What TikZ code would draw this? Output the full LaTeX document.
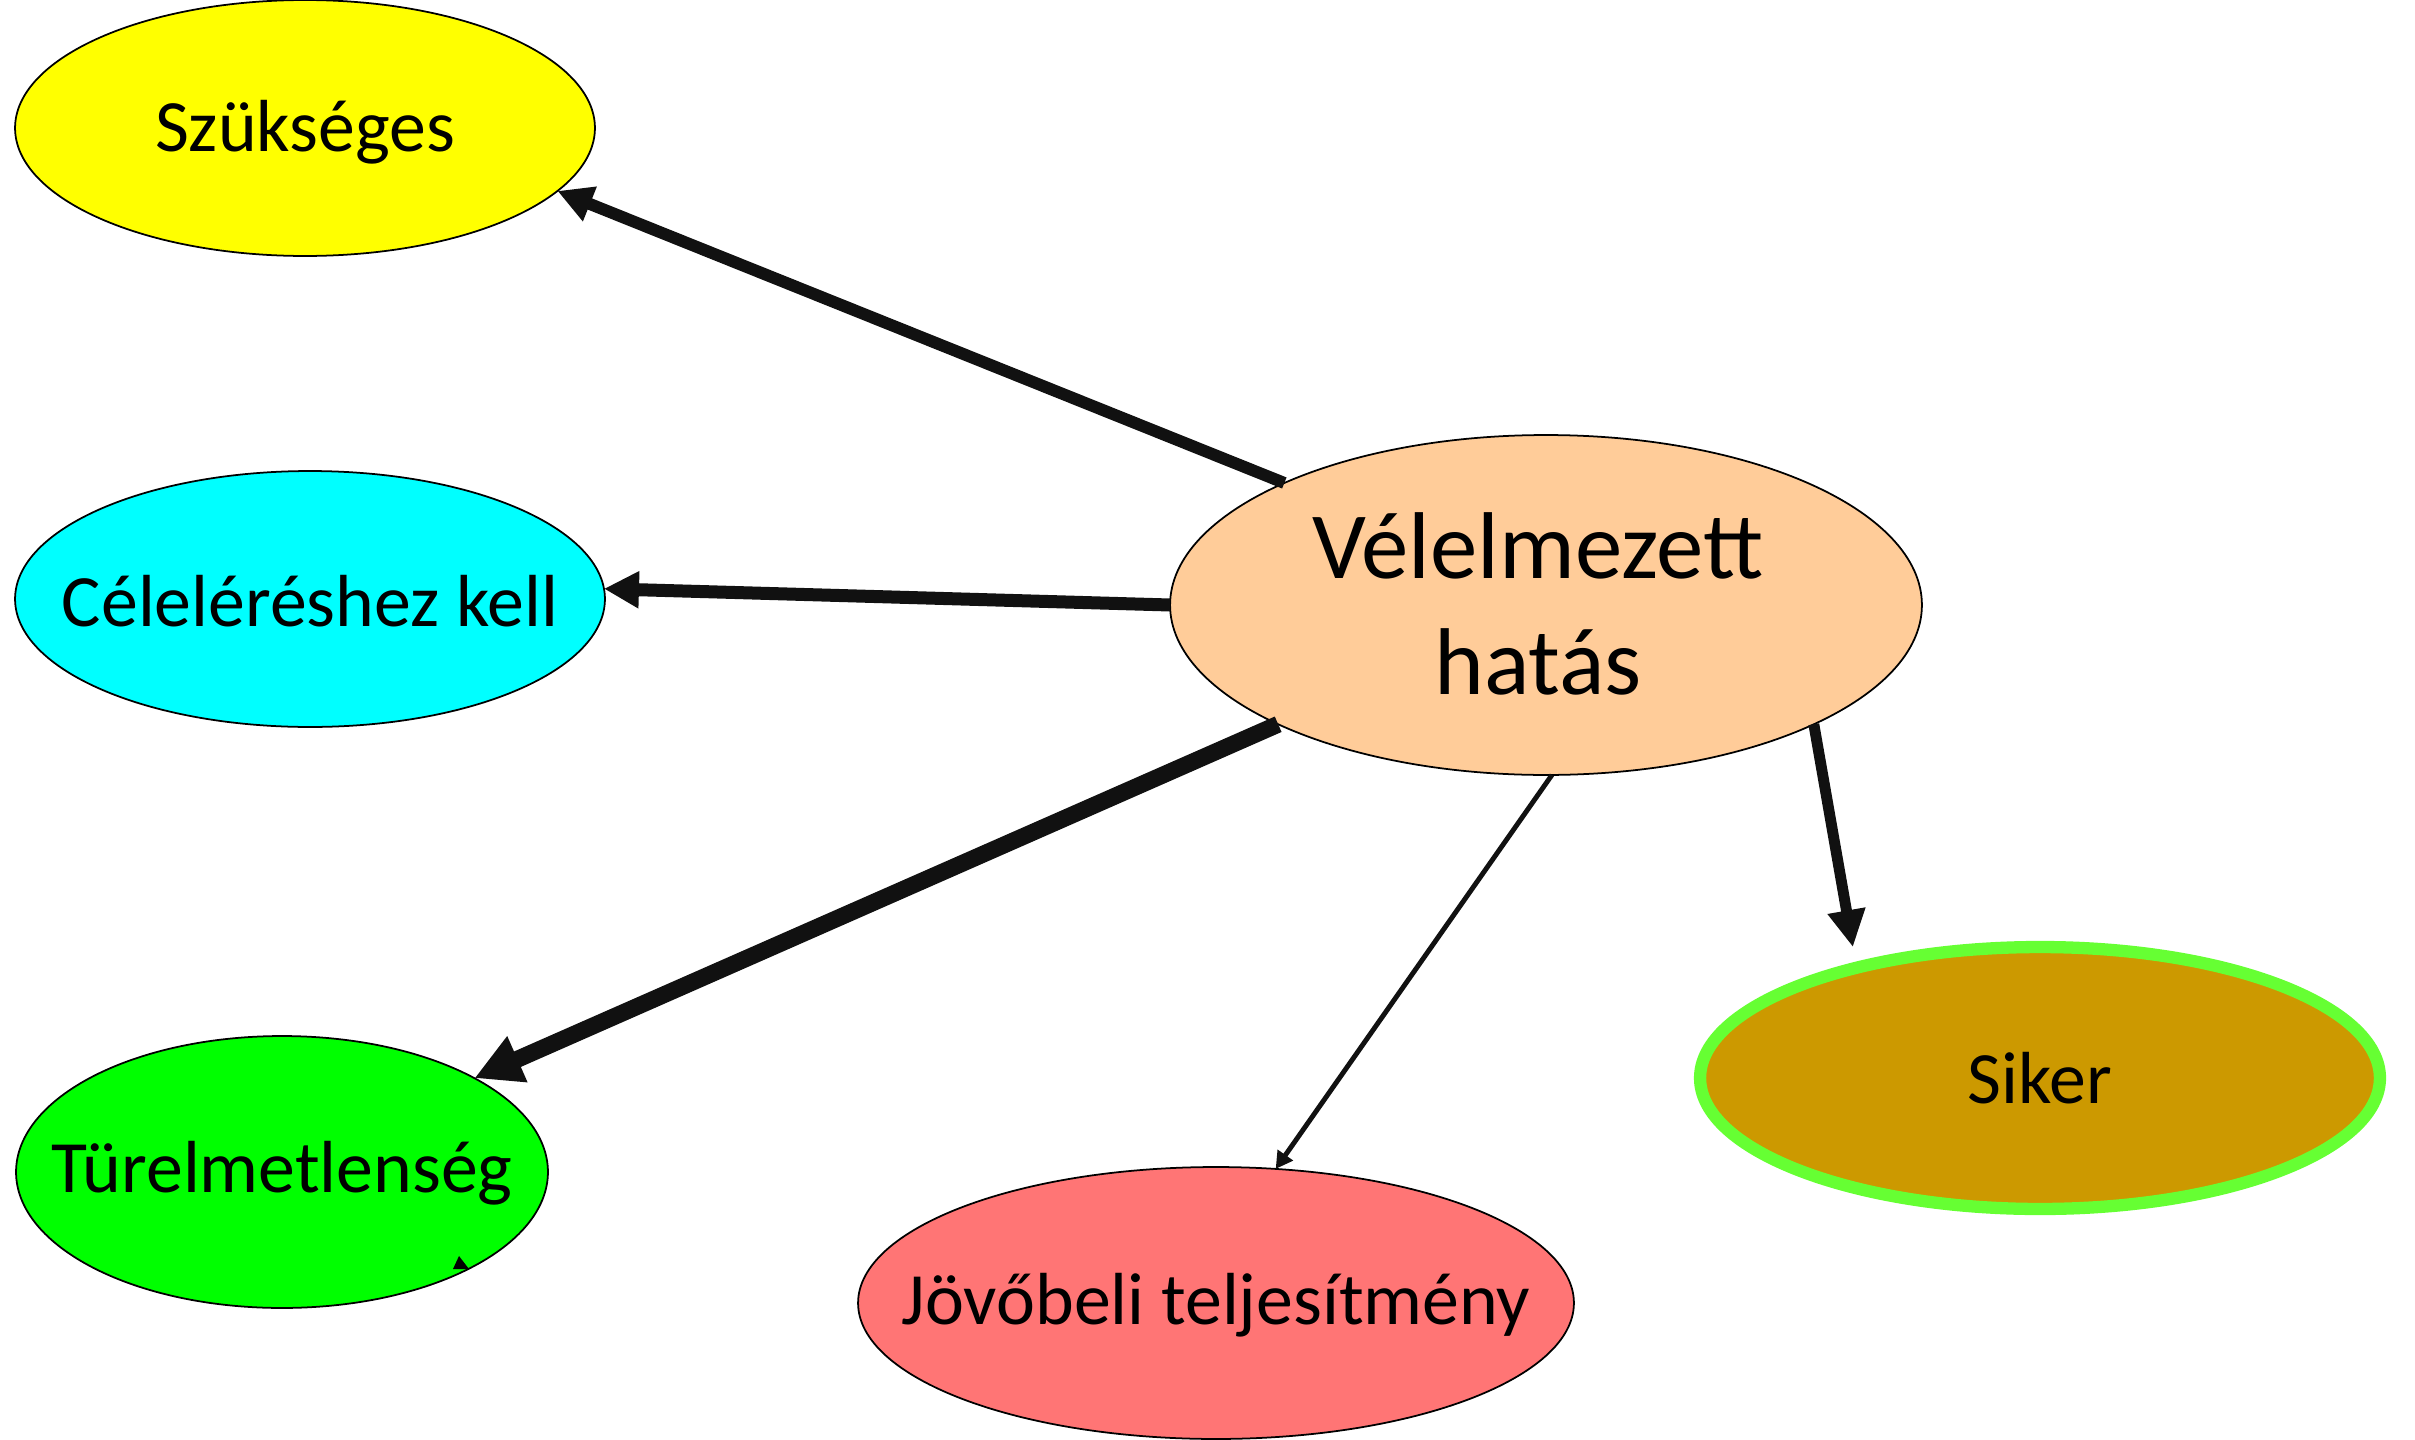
\documentclass[tikz,border=0pt]{standalone}
\usepackage{fontspec}
\setmainfont{Carlito}
\usetikzlibrary{shapes.geometric,arrows.meta}
\definecolor{peach}{HTML}{FFCC99}
\definecolor{salmon}{HTML}{FF7575}
\definecolor{gold}{HTML}{CC9900}
\definecolor{lgreen}{HTML}{66FF33}
\definecolor{pyellow}{HTML}{FFFF00}
\definecolor{pcyan}{HTML}{00FFFF}
\definecolor{pgreen}{HTML}{00FF00}
\definecolor{arrblack}{HTML}{111111}
\tikzset{
  bubble/.style={ellipse,draw=black,line width=1pt,inner sep=0pt,outer sep=0pt},
  lbl/.style={inner sep=0pt,align=center,font=\fontsize{42}{51}\selectfont},
  conn/.style={draw=arrblack,line cap=butt}
}
\begin{document}
\begin{tikzpicture}[x=0.02cm,y=-0.02cm]
\useasboundingbox (0,0) rectangle (2415,1440);
\node[bubble,fill=pyellow,minimum width=11.6cm,minimum height=5.12cm] (s) at (305,128) {};
\node[bubble,fill=pcyan,minimum width=11.8cm,minimum height=5.12cm] (c) at (310,599) {};
\node[bubble,fill=peach,minimum width=15.04cm,minimum height=6.8cm] (v) at (1546,605) {};
\node[bubble,fill=pgreen,minimum width=10.64cm,minimum height=5.44cm] (t) at (282,1172) {};
\node[bubble,fill=salmon,minimum width=14.32cm,minimum height=5.44cm] (j) at (1216,1303) {};
\node[bubble,fill=gold,draw=lgreen,line width=7pt,minimum width=13.6cm,minimum height=5.24cm] (k) at (2040,1078) {};
\node[lbl] (sl) at ([yshift=-0.08cm]s.center) {Szükséges};
\node[lbl] (cl) at ([yshift=-0.04cm]c.center) {Céleléréshez kell};
\node[lbl,font=\fontsize{54}{66}\selectfont] (vl) at ([xshift=-0.16cm,yshift=0.02cm]v.center) {Vélelmezett\\hatás};
\node[lbl] (tl) at ([yshift=-0.02cm]t.center) {Türelmetlenség};
\node[lbl] (jl) at ([yshift=-0.04cm]j.center) {Jövőbeli teljesítmény};
\node[lbl] (kl) at (k.center) {Siker};
\draw[conn,line width=6.8pt,-{Triangle[length=0.7cm,width=0.7cm]}] (v.155) -- (s.-14.4);
\draw[conn,line width=7.4pt,-{Triangle[length=0.7cm,width=0.7cm]}] (v.180) -- (c.2.4);
\draw[conn,line width=9.6pt,-{Triangle[length=0.94cm,width=0.94cm]}] (v.204.7) -- (t.26.7);
\draw[conn,line width=2.8pt,-{Triangle[length=0.34cm,width=0.36cm]}] (v.272) -- (j.66.9);
\draw[conn,line width=6.2pt,shorten >=0.42cm,-{Triangle[length=0.74cm,width=0.72cm]}] (v.-24.6) -- (k.149.5);
\coordinate (m1) at (453,1269);
\coordinate (m2) at (469,1269);
\coordinate (m3) at (459,1256);
\fill[black] (m1) -- (m2) -- (m3) -- cycle;
\end{tikzpicture}
\end{document}
